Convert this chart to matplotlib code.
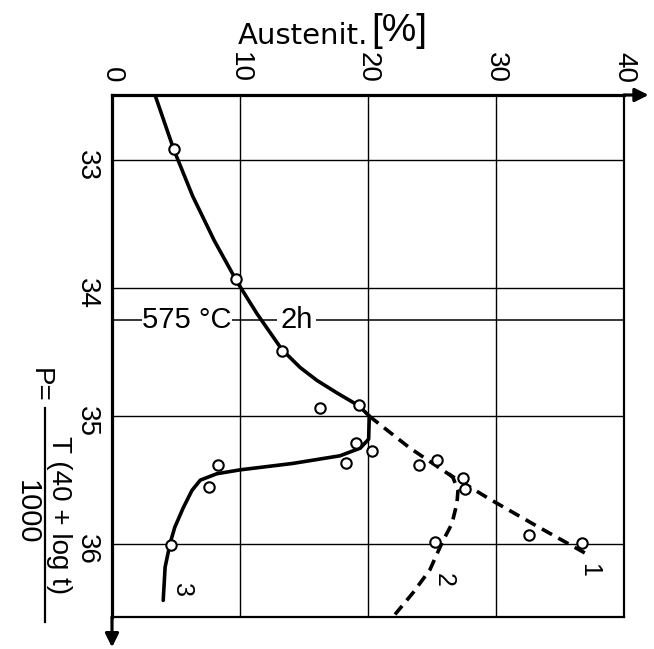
import matplotlib
matplotlib.use('Agg')
import matplotlib.pyplot as plt
import numpy as np

plt.rcParams['font.family'] = ['Liberation Sans', 'DejaVu Sans']

# measured points (Austenit %, P)
pts_x = [4.84, 9.69, 13.28, 16.25, 19.30, 19.06, 20.31, 18.28, 23.98, 25.39,
         27.42, 27.58, 32.58, 36.72, 25.23, 8.28, 7.58, 4.61]
pts_p = [32.91, 33.93, 34.49, 34.94, 34.91, 35.21, 35.27, 35.37, 35.38, 35.34,
         35.48, 35.57, 35.93, 35.99, 35.98, 35.38, 35.55, 36.01]

# curve 1, solid part
c1_x = [3.36, 4.84, 6.3, 8.0, 9.77, 11.33, 13.28, 14.7, 16.0, 17.6, 19.3, 20.1]
c1_p = [32.49, 32.92, 33.28, 33.63, 33.95, 34.20, 34.48, 34.62, 34.72, 34.82, 34.92, 35.00]
# curve 1, dashed part
c1d_x = [20.1, 23.28, 26.25, 29.53, 33.20, 36.95]
c1d_p = [35.00, 35.25, 35.45, 35.65, 35.86, 36.07]
# curve 2 (dashed)
c2_x = [26.3, 26.64, 27.03, 26.95, 26.56, 25.78, 24.84, 23.52, 22.11]
c2_p = [35.45, 35.48, 35.58, 35.68, 35.84, 35.99, 36.20, 36.38, 36.55]
# curve 3
c3_x = [20.1, 20.05, 19.4, 17.81, 14.1, 10.0, 8.2, 6.9, 6.25, 5.55, 4.9, 4.55, 4.15, 4.0]
c3_p = [35.00, 35.18, 35.25, 35.31, 35.37, 35.42, 35.45, 35.50, 35.58, 35.72, 35.87, 35.99, 36.18, 36.44]

xticks = [0, 10, 20, 30, 40]
yticks = [33, 34, 35, 36]

W, H = 654, 649
fig = plt.figure(figsize=(W / 100, H / 100), dpi=100)
ax = fig.add_axes([112 / W, 1 - 617 / H, 512 / W, 522 / H])
ax.set_xlim(0, 40)
ax.set_ylim(36.57, 32.49)

ax.xaxis.tick_top()
ax.set_xticks(xticks)
ax.set_xticklabels([str(v) for v in xticks], rotation=-90, fontsize=20)
ax.set_yticks(yticks)
ax.set_yticklabels([str(v) for v in yticks], rotation=-90, fontsize=20)
ax.tick_params(axis='both', length=0, pad=9)
ax.grid(True, color='k', lw=1.0, zorder=0)

for s in ['top', 'left']:
    ax.spines[s].set_linewidth(2.3)
for s in ['right', 'bottom']:
    ax.spines[s].set_linewidth(1.6)

# axis arrows
arr = dict(arrowstyle='-|>', color='k', lw=2.3, mutation_scale=20, shrinkA=0, shrinkB=0)
ax.annotate('', xy=(1.048, 1), xytext=(1, 1), xycoords='axes fraction',
            arrowprops=arr, annotation_clip=False)
ax.annotate('', xy=(0, -0.058), xytext=(0, 0), xycoords='axes fraction',
            arrowprops=arr, annotation_clip=False)

# 575 C - 2h line
ax.axhline(34.25, color='k', lw=1.1, zorder=1)
ax.text(5.85, 34.25, '575 °C', fontsize=21, ha='center', va='center', zorder=1.5,
        bbox=dict(fc='white', ec='none', pad=0.5))
ax.text(14.4, 34.25, '2h', fontsize=21, ha='center', va='center', zorder=1.5,
        bbox=dict(fc='white', ec='none', pad=2.5))

# curves
ax.plot(c1_x, c1_p, color='k', lw=2.6, zorder=3, solid_capstyle='round')
ax.plot(c1d_x, c1d_p, color='k', lw=2.6, ls=(0, (3.2, 2.0)), zorder=3)
ax.plot(c2_x, c2_p, color='k', lw=2.6, ls=(0, (3.2, 2.0)), zorder=3)
ax.plot(c3_x, c3_p, color='k', lw=2.6, zorder=3, solid_capstyle='round')
ax.plot(pts_x, pts_p, 'o', ms=7.5, mfc='white', mec='k', mew=1.5, zorder=4)

ax.text(37.3, 36.20, '1', fontsize=18, rotation=-90, ha='center', va='center')
ax.text(25.9, 36.28, '2', fontsize=18, rotation=-90, ha='center', va='center')
ax.text(5.5, 36.36, '3', fontsize=18, rotation=-90, ha='center', va='center')

# axis titles
fig.text(238 / W, 1 - 44 / H, 'Austenit.', fontsize=21, ha='left', va='baseline',
         family=['DejaVu Sans'])
fig.text(399 / W, 1 - 31 / H, '[%]', fontsize=28, ha='center', va='center')

fig.text(40 / W, 1 - 385 / H, 'P=', fontsize=20, rotation=-90, ha='center', va='center')
fig.text(59 / W, 1 - 515 / H, 'T (40 + log t)', fontsize=20, rotation=-90,
         ha='center', va='center')
fig.add_artist(plt.Line2D([45 / W, 45 / W], [1 - 408 / H, 1 - 622 / H],
                          color='k', lw=1.6, transform=fig.transFigure))
fig.text(27 / W, 1 - 512 / H, '1000', fontsize=21, rotation=-90, ha='center', va='center')

fig.savefig('out.png', dpi=100, facecolor='white')
